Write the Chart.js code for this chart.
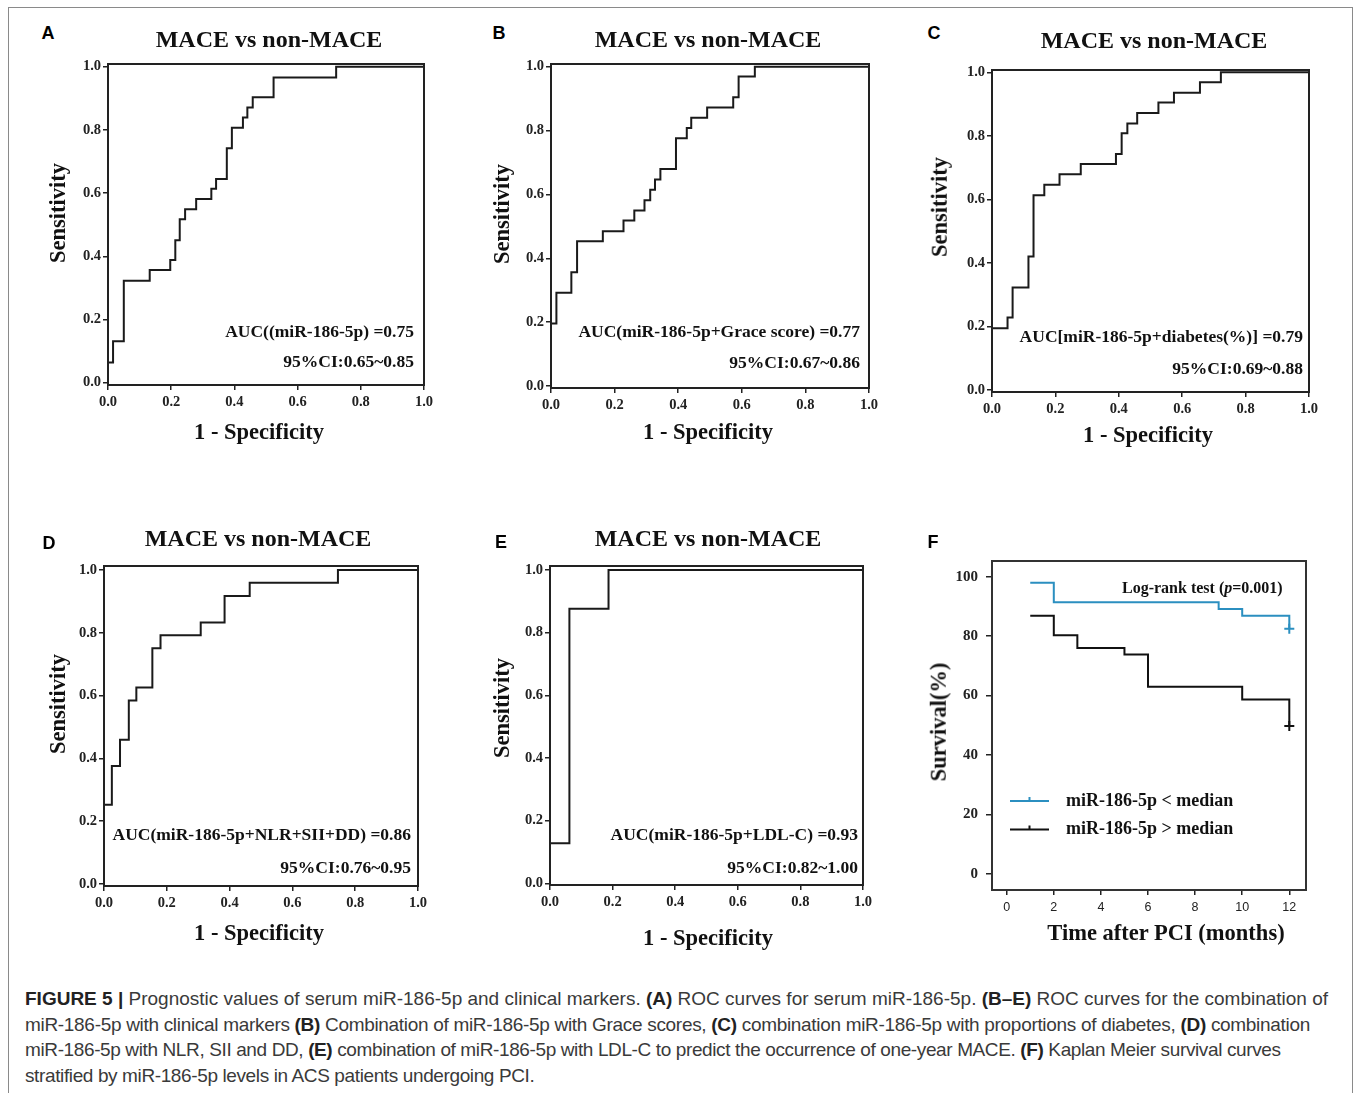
<!DOCTYPE html>
<html>
<head>
<meta charset="utf-8">
<script src="https://cdn.jsdelivr.net/npm/chart.js@4.4.1/dist/chart.umd.min.js"></script>
<style>
  body { margin: 0; background: #fff; }
  #figura { position: relative; width: 1358px; height: 1093px; overflow: hidden; background: #fff; }
  #figura canvas { position: absolute; z-index: 1; }
  .borda { position: absolute; left: 8px; top: 7px; width: 1343px; height: 1100px; border: 1px solid #8a8a8a; }
  .t { position: absolute; z-index: 2; white-space: nowrap; line-height: 1; font-family: "Liberation Serif", serif; font-weight: bold; color: #111; }
  .c { transform: translate(-50%, -50%); }
  .r { transform: translate(-100%, -50%); }
  .v { transform: translate(-50%, -50%) rotate(-90deg); }
  .tit { font-size: 24px; }
  .eixo { font-size: 22.5px; }
  .auc { font-size: 17.5px; }
  .letra { font-family: "Liberation Sans", Arial, sans-serif; font-size: 18px; color: #000; }
  .legenda { position: absolute; z-index: 2; left: 25px; top: 986px; font-family: "Liberation Sans", Arial, sans-serif; font-size: 19px; line-height: 25.5px; color: #3a3a3a; white-space: nowrap; }
  .legenda b { color: #222; }
</style>
</head>
<body>
<div id="figura">
  <div class="borda"></div>

  <div class="t c letra" style="left:48px;top:33px">A</div>
  <div class="t c letra" style="left:499px;top:33px">B</div>
  <div class="t c letra" style="left:934px;top:33px">C</div>
  <div class="t c letra" style="left:49px;top:543px">D</div>
  <div class="t c letra" style="left:501px;top:542px">E</div>
  <div class="t c letra" style="left:933px;top:542px">F</div>

  <div class="t c tit" style="left:269px;top:39px">MACE vs non-MACE</div>
  <div class="t c tit" style="left:708px;top:39px">MACE vs non-MACE</div>
  <div class="t c tit" style="left:1154px;top:40px">MACE vs non-MACE</div>
  <div class="t c tit" style="left:258px;top:538px">MACE vs non-MACE</div>
  <div class="t c tit" style="left:708px;top:538px">MACE vs non-MACE</div>

  <div class="t v eixo" style="left:58px;top:213px">Sensitivity</div>
  <div class="t v eixo" style="left:502px;top:214px">Sensitivity</div>
  <div class="t v eixo" style="left:940px;top:207px">Sensitivity</div>
  <div class="t v eixo" style="left:58px;top:704px">Sensitivity</div>
  <div class="t v eixo" style="left:502px;top:708px">Sensitivity</div>
  <div class="t v eixo" style="left:939px;top:722px">Survival(%)</div>

  <div class="t c eixo" style="left:259px;top:432px">1 - Specificity</div>
  <div class="t c eixo" style="left:708px;top:432px">1 - Specificity</div>
  <div class="t c eixo" style="left:1148px;top:435px">1 - Specificity</div>
  <div class="t c eixo" style="left:259px;top:933px">1 - Specificity</div>
  <div class="t c eixo" style="left:708px;top:938px">1 - Specificity</div>
  <div class="t c eixo" style="left:1166px;top:933px">Time after PCI (months)</div>

  <div class="t r auc" style="left:414px;top:332px">AUC((miR-186-5p) =0.75</div>
  <div class="t r auc" style="left:414px;top:362px">95%CI:0.65~0.85</div>
  <div class="t r auc" style="left:860px;top:332px">AUC(miR-186-5p+Grace score) =0.77</div>
  <div class="t r auc" style="left:860px;top:363px">95%CI:0.67~0.86</div>
  <div class="t r auc" style="left:1303px;top:337px">AUC[miR-186-5p+diabetes(%)] =0.79</div>
  <div class="t r auc" style="left:1303px;top:369px">95%CI:0.69~0.88</div>
  <div class="t r auc" style="left:411px;top:835px">AUC(miR-186-5p+NLR+SII+DD) =0.86</div>
  <div class="t r auc" style="left:411px;top:868px">95%CI:0.76~0.95</div>
  <div class="t r auc" style="left:858px;top:835px">AUC(miR-186-5p+LDL-C) =0.93</div>
  <div class="t r auc" style="left:858px;top:868px">95%CI:0.82~1.00</div>

  <div class="t" style="left:1122px;top:588px;transform:translateY(-50%);font-size:16px">Log-rank test (<i>p</i>=0.001)</div>

  <div class="legenda">
    <div><b>FIGURE 5 |</b> Prognostic values of serum miR-186-5p and clinical markers. <b>(A)</b> ROC curves for serum miR-186-5p. <b>(B–E)</b> ROC curves for the combination of</div>
    <div style="letter-spacing:-0.31px">miR-186-5p with clinical markers <b>(B)</b> Combination of miR-186-5p with Grace scores, <b>(C)</b> combination miR-186-5p with proportions of diabetes, <b>(D)</b> combination</div>
    <div style="letter-spacing:-0.38px">miR-186-5p with NLR, SII and DD, <b>(E)</b> combination of miR-186-5p with LDL-C to predict the occurrence of one-year MACE. <b>(F)</b> Kaplan Meier survival curves</div>
    <div style="letter-spacing:-0.38px">stratified by miR-186-5p levels in ACS patients undergoing PCI.</div>
  </div>
</div>

<script>
// ROC A: miR-186-5p
const fprA = [0, 0, 0.016, 0.050, 0.132, 0.197, 0.213, 0.227, 0.244, 0.279, 0.327, 0.342, 0.376, 0.392, 0.427, 0.441, 0.458, 0.524, 0.722, 1.0]
const tprA = [0, 0.064, 0.131, 0.323, 0.357, 0.388, 0.451, 0.517, 0.549, 0.581, 0.614, 0.645, 0.742, 0.807, 0.839, 0.871, 0.903, 0.966, 1.0, 1.0]

// ROC B: + Grace score
const fprB = [0, 0, 0.017, 0.064, 0.082, 0.163, 0.228, 0.262, 0.294, 0.312, 0.327, 0.344, 0.393, 0.427, 0.441, 0.491, 0.573, 0.590, 0.641, 1.0]
const tprB = [0, 0.196, 0.292, 0.356, 0.453, 0.485, 0.518, 0.550, 0.582, 0.615, 0.647, 0.680, 0.776, 0.808, 0.840, 0.872, 0.904, 0.969, 1.0, 1.0]

// ROC C: + diabetes
const fprC = [0, 0, 0.049, 0.065, 0.115, 0.131, 0.165, 0.213, 0.280, 0.391, 0.409, 0.427, 0.458, 0.525, 0.574, 0.656, 0.722, 1.0]
const tprC = [0, 0.194, 0.228, 0.323, 0.420, 0.613, 0.646, 0.679, 0.711, 0.743, 0.808, 0.839, 0.872, 0.905, 0.936, 0.969, 1.0, 1.0]

// ROC D: + NLR + SII + DD
const fprD = [0, 0, 0.025, 0.051, 0.079, 0.103, 0.154, 0.180, 0.308, 0.384, 0.464, 0.745, 1.0]
const tprD = [0, 0.252, 0.376, 0.459, 0.584, 0.626, 0.751, 0.792, 0.833, 0.917, 0.959, 1.0, 1.0]

// ROC E: + LDL-C
const fprE = [0, 0, 0.062, 0.187, 1.0]
const tprE = [0, 0.128, 0.876, 1.0, 1.0]

const rocTicks = [0, 0.2, 0.4, 0.6, 0.8, 1.0]

// Kaplan Meier (F)
const kmLabels = ['miR-186-5p < median', 'miR-186-5p > median']
const kmTempoBaixo = [1, 2, 9, 10, 12]
const kmSobrevBaixo = [98, 91.4, 89.1, 86.9, 82.5]
const kmTempoAlto = [1, 2, 3, 5, 6, 10, 12]
const kmSobrevAlto = [86.9, 80.3, 76.0, 73.8, 63.0, 58.7, 49.8]
const kmXTicks = [0, 2, 4, 6, 8, 10, 12]
const kmYTicks = [0, 20, 40, 60, 80, 100]

const moldura = {
  id: 'moldura',
  afterDatasetsDraw(chart, args, opts) {
    const { ctx, chartArea: a } = chart
    ctx.save()
    ctx.strokeStyle = opts.color
    ctx.lineWidth = opts.width
    ctx.strokeRect(a.left, a.top, a.right - a.left, a.bottom - a.top)
    ctx.restore()
  }
}

const legendaKM = {
  id: 'legendaKM',
  afterDraw(chart) {
    const { ctx, chartArea: a } = chart
    chart.data.datasets.forEach((ds, i) => {
      const y = a.top + 240 + i * 28.5
      const x0 = a.left + 18
      const x1 = a.left + 57
      ctx.save()
      ctx.strokeStyle = ds.borderColor
      ctx.lineWidth = 2
      ctx.beginPath()
      ctx.moveTo(x0, y)
      ctx.lineTo(x1, y)
      ctx.moveTo((x0 + x1) / 2, y)
      ctx.lineTo((x0 + x1) / 2, y - 4)
      ctx.stroke()
      ctx.fillStyle = '#111'
      ctx.font = 'bold 18px "Liberation Serif"'
      ctx.textBaseline = 'middle'
      ctx.fillText(ds.label, a.left + 74, y)
      ctx.restore()
    })
  }
}

function criaCanvas(p) {
  const c = document.createElement('canvas')
  c.width = p.R - p.L + 80
  c.height = p.B - p.T + 60
  c.style.left = (p.L - 60) + 'px'
  c.style.top = (p.T - 20) + 'px'
  document.getElementById('figura').appendChild(c)
  return c
}

function pontos(xs, ys) {
  return xs.map((x, i) => ({ x: x, y: ys[i] }))
}

function eixo(min, max, ticks, fonte, tamanho, pad, fmt, largura, horizontal) {
  return {
    type: 'linear',
    min: min,
    max: max,
    afterBuildTicks: s => { s.ticks = ticks.map(v => ({ value: v })) },
    afterFit: s => { if (horizontal) s.height = largura; else s.width = largura },
    border: { display: false },
    grid: { drawOnChartArea: false, drawTicks: true, tickLength: tamanho, color: '#222', lineWidth: 1.5 },
    ticks: { color: '#222', padding: pad, font: fonte, callback: fmt, autoSkip: false, maxRotation: 0 }
  }
}

const fonteRoc = { family: 'Liberation Serif', size: 14.5, weight: 'bold' }

// y1/y0 = pixel rows of 1.0 and 0.0; T/B = frame edges
function graficoRoc(p, fpr, tpr) {
  const unid = p.y0 - p.y1
  const ymin = -(p.B - p.y0) / unid
  const ymax = 1 + (p.y1 - p.T) / unid
  return new Chart(criaCanvas(p), {
    type: 'line',
    data: {
      datasets: [{
        data: pontos(fpr, tpr),
        stepped: 'before',
        borderColor: '#1a1a1a',
        borderWidth: 2,
        pointRadius: 0,
        fill: false
      }]
    },
    options: {
      responsive: false,
      animation: false,
      events: [],
      layout: { padding: { left: 0, top: 20, right: 20, bottom: 0 } },
      plugins: { legend: { display: false }, tooltip: { enabled: false }, moldura: { color: '#222', width: 2 } },
      scales: {
        x: eixo(0, 1, rocTicks, fonteRoc, 5, 4, v => v.toFixed(1), 40, true),
        y: eixo(ymin, ymax, rocTicks, fonteRoc, 5, 2, v => v.toFixed(1), 60, false)
      }
    },
    plugins: [moldura]
  })
}

graficoRoc({ L: 108, R: 424, T: 64, B: 385, y1: 66.7, y0: 382.7 }, fprA, tprA)
graficoRoc({ L: 551, R: 869, T: 64, B: 388, y1: 66.7, y0: 386 }, fprB, tprB)
graficoRoc({ L: 992, R: 1309, T: 70, B: 392, y1: 72.3, y0: 390 }, fprC, tprC)
graficoRoc({ L: 104, R: 418, T: 566, B: 886, y1: 570, y0: 884 }, fprD, tprD)
graficoRoc({ L: 550, R: 863, T: 566, B: 885, y1: 570, y0: 883.3 }, fprE, tprE)

// Kaplan Meier
const pF = { L: 992, R: 1306, T: 561, B: 890 }
const px0 = 1006.7, px12 = 1289.3, py100 = 576.7, py0 = 874
const porMes = (px12 - px0) / 12
const porPct = (py0 - py100) / 100

const ultimo = ctx => ctx.dataIndex === ctx.dataset.data.length - 1 ? 5 : 0

new Chart(criaCanvas(pF), {
  type: 'line',
  data: {
    datasets: [{
      label: kmLabels[0],
      data: pontos(kmTempoBaixo, kmSobrevBaixo),
      stepped: 'before',
      borderColor: '#2b8fc0',
      borderWidth: 2,
      pointStyle: 'cross',
      pointRadius: ultimo,
      pointBorderWidth: 2,
      pointBorderColor: '#2b8fc0',
      fill: false
    }, {
      label: kmLabels[1],
      data: pontos(kmTempoAlto, kmSobrevAlto),
      stepped: 'before',
      borderColor: '#111',
      borderWidth: 2,
      pointStyle: 'cross',
      pointRadius: ultimo,
      pointBorderWidth: 2,
      pointBorderColor: '#111',
      fill: false
    }]
  },
  options: {
    responsive: false,
    animation: false,
    events: [],
    layout: { padding: { left: 0, top: 20, right: 20, bottom: 0 } },
    plugins: { legend: { display: false }, tooltip: { enabled: false }, moldura: { color: '#333', width: 2 } },
    scales: {
      x: eixo(-(px0 - pF.L) / porMes, 12 + (pF.R - px12) / porMes, kmXTicks,
        { family: 'Liberation Sans', size: 12.5 }, 5, 5, v => String(v), 40, true),
      y: eixo(-(pF.B - py0) / porPct, 100 + (py100 - pF.T) / porPct, kmYTicks,
        { family: 'Liberation Serif', size: 15, weight: 'bold' }, 6, 8, v => String(v), 60, false)
    }
  },
  plugins: [moldura, legendaKM]
})
</script>
</body>
</html>
